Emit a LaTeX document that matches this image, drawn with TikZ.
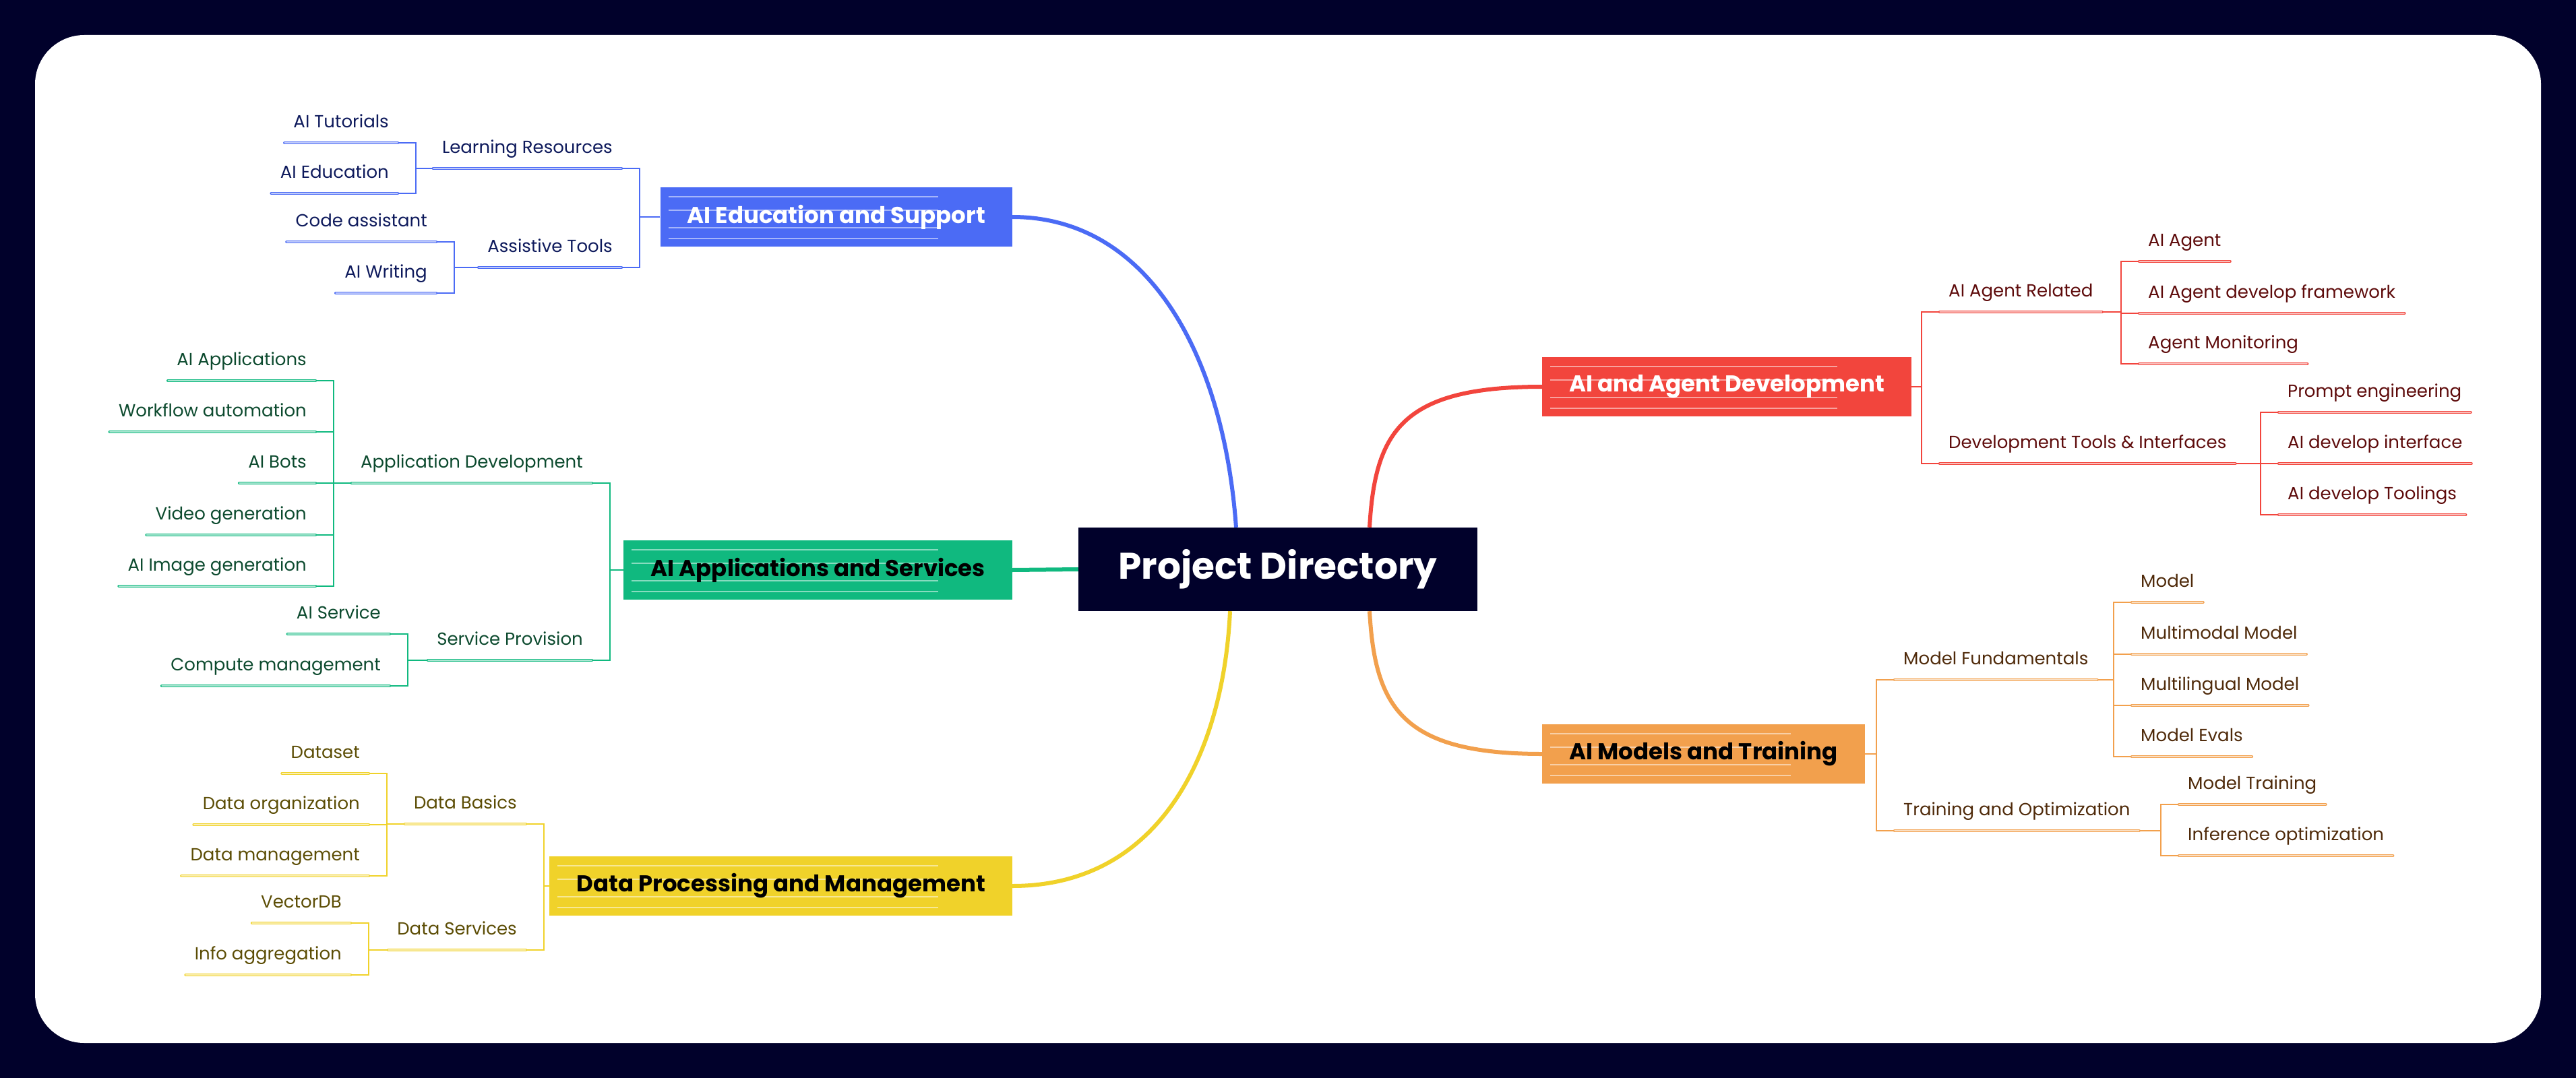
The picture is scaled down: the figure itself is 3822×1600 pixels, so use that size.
\documentclass[tikz,border=0pt]{standalone}
\usepackage{fontspec}
\setmainfont{Poppins}
\usetikzlibrary{positioning}

\definecolor{navy}{HTML}{01012B}
\definecolor{eduC}{HTML}{4B6BF5}
\definecolor{appC}{HTML}{10B97F}
\definecolor{dataC}{HTML}{F0D22A}
\definecolor{agentC}{HTML}{F2453D}
\definecolor{modelC}{HTML}{F2A04D}
\definecolor{eduT}{HTML}{0E1A5C}
\definecolor{appT}{HTML}{0C4A2E}
\definecolor{dataT}{HTML}{5C4D05}
\definecolor{agentT}{HTML}{5E0B0B}
\definecolor{modelT}{HTML}{4F2A0A}

\tikzset{
  topic/.style={inner xsep=13pt, inner ysep=0pt, text height=20pt, text depth=22pt,
    font=\fontsize{26}{30}\selectfont},
  lefttopic/.style={topic, anchor=south east},
  righttopic/.style={topic, anchor=south west},
  uline/.style={line width=1.6pt, double distance=1.2pt, line cap=round},
  bracket/.style={line width=2.2pt},
  branch/.style={line width=6pt},
  mainbox/.style={inner xsep=40pt, minimum height=88pt,
    font=\fontsize{34}{38}\selectfont\bfseries,
    path picture={
      \foreach \d in {14,34,60,76}
        \draw[white, opacity=0.5, line width=1.4pt]
          ([xshift=12pt, yshift=-\d pt]path picture bounding box.north west) --
          ([xshift=-110pt, yshift=-\d pt]path picture bounding box.north east);
    }},
  eduLine/.style={uline, draw=eduC, double=eduC!35!white},
  appLine/.style={uline, draw=appC, double=appC!35!white},
  dataLine/.style={uline, draw=dataC, double=dataC!35!white},
  agentLine/.style={uline, draw=agentC, double=agentC!35!white},
  modelLine/.style={uline, draw=modelC, double=modelC!35!white},
}

\begin{document}
\begin{tikzpicture}[x=1pt, y=-1pt]
  % Fondo
  \useasboundingbox (0,0) rectangle (3822,1600);
  \fill[navy] (0,0) rectangle (3822,1600);
  \fill[white, rounded corners=73pt] (52,52) rectangle (3770,1548);

  % Nodo central
  \node[fill=navy, text=white, minimum width=592pt, minimum height=124pt,
        font=\fontsize{55}{60}\selectfont\bfseries] (pd) at (1896,845) {Project Directory};

  % Ramas principales
  \node[mainbox, fill=eduC, text=white, anchor=east] (edu) at (1502,322) {AI Education and Support};
  \node[mainbox, fill=appC, text=black, anchor=east] (app) at (1502,846) {AI Applications and Services};
  \node[mainbox, fill=dataC, text=black, anchor=east] (data) at (1502,1315) {Data Processing and Management};
  \node[mainbox, fill=agentC, text=white, anchor=west] (agent) at (2288,574) {AI and Agent Development};
  \node[mainbox, fill=modelC, text=black, anchor=west] (model) at (2288,1119) {AI Models and Training};

  \draw[branch, eduC] ([xshift=-62pt]pd.north) .. controls (1815,520) and (1700,322) .. (edu.east);
  \draw[branch, appC] (pd.west) -- (app.east);
  \draw[branch, dataC] ([xshift=-71pt]pd.south) .. controls (1815,1120) and (1720,1315) .. (data.east);
  \draw[branch, agentC] ([xshift=136pt]pd.north) .. controls (2040,640) and (2080,574) .. (agent.west);
  \draw[branch, modelC] ([xshift=136pt]pd.south) .. controls (2040,1050) and (2080,1119) .. (model.west);

  % AI Education and Support
  \node[lefttopic, text=eduT] (learn) at (922,250) {Learning Resources};
  \node[lefttopic, text=eduT] (assist) at (922,397) {Assistive Tools};
  \node[lefttopic, text=eduT] (tutor) at (590,212) {AI Tutorials};
  \node[lefttopic, text=eduT] (aiedu) at (590,287) {AI Education};
  \node[lefttopic, text=eduT] (codeas) at (647,359) {Code assistant};
  \node[lefttopic, text=eduT] (writing) at (647,435) {AI Writing};
  \foreach \n in {learn,assist}
    \draw[bracket, eduC] (edu.west) -| ([xshift=27pt]\n.south east) -- (\n.south east);
  \foreach \n in {tutor,aiedu}
    \draw[bracket, eduC] (learn.south west) -| ([xshift=27pt]\n.south east) -- (\n.south east);
  \foreach \n in {codeas,writing}
    \draw[bracket, eduC] (assist.south west) -| ([xshift=27pt]\n.south east) -- (\n.south east);
  \foreach \n in {learn,assist,tutor,aiedu,codeas,writing}
    \draw[eduLine] (\n.south west) -- (\n.south east);

  % AI Applications and Services
  \node[lefttopic, text=appT] (appdev) at (878,717) {Application Development};
  \node[lefttopic, text=appT] (service) at (878,980) {Service Provision};
  \node[lefttopic, text=appT] (apps) at (468,565) {AI Applications};
  \node[lefttopic, text=appT] (flow) at (468,641) {Workflow automation};
  \node[lefttopic, text=appT] (bots) at (468,717) {AI Bots};
  \node[lefttopic, text=appT] (video) at (468,794) {Video generation};
  \node[lefttopic, text=appT] (image) at (468,870) {AI Image generation};
  \node[lefttopic, text=appT] (aiserv) at (578,941) {AI Service};
  \node[lefttopic, text=appT] (compute) at (578,1018) {Compute management};
  \foreach \n in {appdev,service}
    \draw[bracket, appC] (app.west) -| ([xshift=27pt]\n.south east) -- (\n.south east);
  \foreach \n in {apps,flow,bots,video,image}
    \draw[bracket, appC] (appdev.south west) -| ([xshift=27pt]\n.south east) -- (\n.south east);
  \foreach \n in {aiserv,compute}
    \draw[bracket, appC] (service.south west) -| ([xshift=27pt]\n.south east) -- (\n.south east);
  \foreach \n in {appdev,service,apps,flow,bots,video,image,aiserv,compute}
    \draw[appLine] (\n.south west) -- (\n.south east);

  % Data Processing and Management
  \node[lefttopic, text=dataT] (basics) at (780,1223) {Data Basics};
  \node[lefttopic, text=dataT] (dserv) at (780,1410) {Data Services};
  \node[lefttopic, text=dataT] (dataset) at (547,1148) {Dataset};
  \node[lefttopic, text=dataT] (dorg) at (547,1224) {Data organization};
  \node[lefttopic, text=dataT] (dmgmt) at (547,1300) {Data management};
  \node[lefttopic, text=dataT] (vdb) at (520,1370) {VectorDB};
  \node[lefttopic, text=dataT] (info) at (520,1447) {Info aggregation};
  \foreach \n in {basics,dserv}
    \draw[bracket, dataC] (data.west) -| ([xshift=27pt]\n.south east) -- (\n.south east);
  \foreach \n in {dataset,dorg,dmgmt}
    \draw[bracket, dataC] (basics.south west) -| ([xshift=27pt]\n.south east) -- (\n.south east);
  \foreach \n in {vdb,info}
    \draw[bracket, dataC] (dserv.south west) -| ([xshift=27pt]\n.south east) -- (\n.south east);
  \foreach \n in {basics,dserv,dataset,dorg,dmgmt,vdb,info}
    \draw[dataLine] (\n.south west) -- (\n.south east);

  % AI and Agent Development
  \node[righttopic, text=agentT] (related) at (2878,463) {AI Agent Related};
  \node[righttopic, text=agentT] (devtools) at (2878,688) {Development Tools \& Interfaces};
  \node[righttopic, text=agentT] (aiagent) at (3174,388) {AI Agent};
  \node[righttopic, text=agentT] (frame) at (3174,465) {AI Agent develop framework};
  \node[righttopic, text=agentT] (monitor) at (3174,540) {Agent Monitoring};
  \node[righttopic, text=agentT] (prompt) at (3381,612) {Prompt engineering};
  \node[righttopic, text=agentT] (iface) at (3381,688) {AI develop interface};
  \node[righttopic, text=agentT] (tools) at (3381,764) {AI develop Toolings};
  \foreach \n in {related,devtools}
    \draw[bracket, agentC] (agent.east) -| ([xshift=-27pt]\n.south west) -- (\n.south west);
  \foreach \n in {aiagent,frame,monitor}
    \draw[bracket, agentC] (related.south east) -| ([xshift=-27pt]\n.south west) -- (\n.south west);
  \foreach \n in {prompt,iface,tools}
    \draw[bracket, agentC] (devtools.south east) -| ([xshift=-27pt]\n.south west) -- (\n.south west);
  \foreach \n in {related,devtools,aiagent,frame,monitor,prompt,iface,tools}
    \draw[agentLine] (\n.south west) -- (\n.south east);

  % AI Models and Training
  \node[righttopic, text=modelT] (fund) at (2811,1009) {Model Fundamentals};
  \node[righttopic, text=modelT] (train) at (2811,1233) {Training and Optimization};
  \node[righttopic, text=modelT] (mdl) at (3163,894) {Model};
  \node[righttopic, text=modelT] (multim) at (3163,971) {Multimodal Model};
  \node[righttopic, text=modelT] (multil) at (3163,1047) {Multilingual Model};
  \node[righttopic, text=modelT] (evals) at (3163,1123) {Model Evals};
  \node[righttopic, text=modelT] (mtrain) at (3233,1194) {Model Training};
  \node[righttopic, text=modelT] (infer) at (3233,1270) {Inference optimization};
  \foreach \n in {fund,train}
    \draw[bracket, modelC] (model.east) -| ([xshift=-27pt]\n.south west) -- (\n.south west);
  \foreach \n in {mdl,multim,multil,evals}
    \draw[bracket, modelC] (fund.south east) -| ([xshift=-27pt]\n.south west) -- (\n.south west);
  \foreach \n in {mtrain,infer}
    \draw[bracket, modelC] (train.south east) -| ([xshift=-27pt]\n.south west) -- (\n.south west);
  \foreach \n in {fund,train,mdl,multim,multil,evals,mtrain,infer}
    \draw[modelLine] (\n.south west) -- (\n.south east);
\end{tikzpicture}
\end{document}
